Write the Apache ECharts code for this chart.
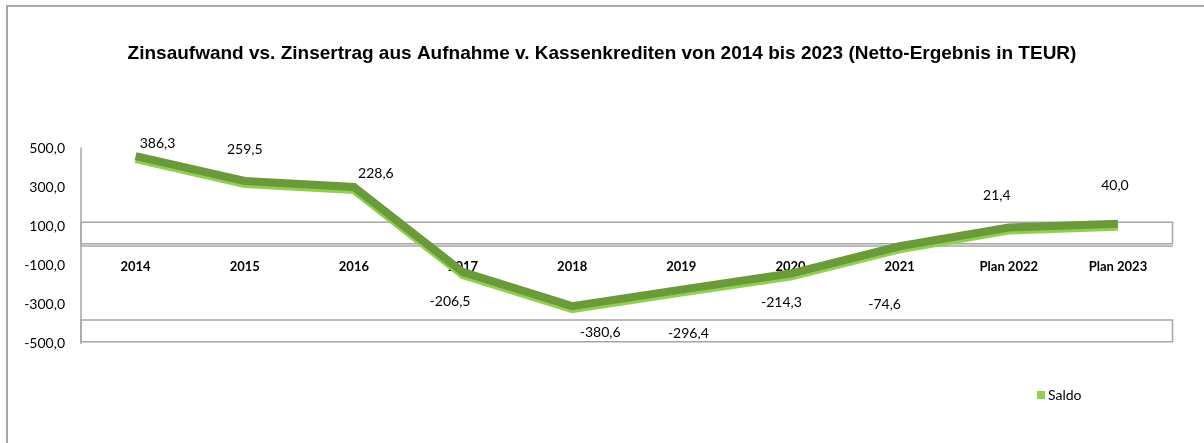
<!DOCTYPE html>
<html>
<head>
<meta charset="utf-8">
<script src="https://cdn.jsdelivr.net/npm/echarts@6/dist/echarts.min.js"></script>
<style>
  html, body { margin: 0; padding: 0; background: #fff; }
  #chart { position: absolute; left: 0; top: 0; width: 1204px; height: 443px; }
  #frame { position: absolute; left: 6px; top: 5px; right: 0; bottom: 0;
           border-left: 2px solid #a6a6a6; border-top: 2px solid #a6a6a6; pointer-events: none; }
</style>
</head>
<body>
<div id="chart"></div>
<div id="frame"></div>
<script>
// ---- data ----
const categories = ['2014', '2015', '2016', '2017', '2018', '2019', '2020', '2021', 'Plan 2022', 'Plan 2023'];
const saldo = [386.3, 259.5, 228.6, -206.5, -380.6, -296.4, -214.3, -74.6, 21.4, 40.0];
const yTicks = [-500, -300, -100, 100, 300, 500];
const seriesName = 'Saldo';
const titleText = 'Zinsaufwand vs. Zinsertrag aus Aufnahme v. Kassenkrediten von 2014 bis 2023 (Netto-Ergebnis in TEUR)';

// ---- styling (label placement mimicking the original 3D chart) ----
const labelOffsets = [[22, -13], [0, -31], [22, -13], [-13, 29], [28, 26], [7, 44], [-9, 29], [-15, 58], [-12, -32], [-3, -38]];
const fmt = v => v.toFixed(1).replace('.', ',');

const chart = echarts.init(document.getElementById('chart'));
chart.setOption({
  animation: false,
  backgroundColor: '#fff',
  title: {
    text: titleText,
    left: 'center',
    top: 39,
    textStyle: { fontFamily: 'Liberation Sans', fontWeight: 'bold', fontSize: 19, color: '#000' }
  },
  legend: {
    data: [{ name: seriesName, icon: 'rect', itemStyle: { color: '#92d050', opacity: 1 } }],
    left: 1032,
    top: 383,
    itemWidth: 8,
    itemHeight: 8,
    itemGap: 4,
    textStyle: { fontFamily: 'Lato', fontSize: 14, color: '#000', padding: [0, 0, 0, -2] }
  },
  grid: { left: 81, right: 31.5, top: 148, bottom: 99.5, containLabel: false },
  xAxis: {
    type: 'category',
    data: categories,
    boundaryGap: true,
    axisLine: { show: true, lineStyle: { color: '#a6a6a6', width: 1.5 } },
    axisTick: { show: false },
    axisLabel: { margin: -83, fontFamily: 'Lato', fontWeight: 'bold', fontSize: 13, color: '#000', interval: 0 },
    splitLine: { show: false }
  },
  yAxis: [
    {
      type: 'value',
      min: yTicks[0],
      max: yTicks[yTicks.length - 1],
      interval: 200,
      axisLine: { show: true, lineStyle: { color: '#a6a6a6', width: 1.5 } },
      axisTick: { show: false },
      splitLine: { show: false },
      axisLabel: { margin: 16, fontFamily: 'Lato', fontSize: 14, color: '#000', formatter: v => fmt(v) }
    },
    {
      // hidden scale reproducing the depth offset of the original 3D line
      type: 'value', min: -572, max: 428, show: false, splitLine: { show: false }
    }
  ],
  series: [
    {
      // wall boxes of the original 3D chart
      type: 'line',
      yAxisIndex: 0,
      data: [],
      silent: true,
      markArea: {
        silent: true,
        itemStyle: { color: 'rgba(0,0,0,0)', borderColor: '#a6a6a6', borderWidth: 1.5 },
        data: [
          [{ yAxis: 120 }, { yAxis: 10 }],
          [{ yAxis: -380 }, { yAxis: -491 }]
        ]
      }
    },
    {
      name: seriesName,
      type: 'line',
      yAxisIndex: 1,
      symbol: 'circle',
      symbolSize: 0.1,
      showSymbol: true,
      itemStyle: { color: '#92d050', opacity: 0 },
      lineStyle: {
        width: 8, color: '#6b9a3b', join: 'miter', cap: 'butt',
        shadowColor: '#8fd14f', shadowOffsetY: 3, shadowBlur: 0
      },
      data: saldo.map((v, i) => ({
        value: v,
        label: {
          show: true,
          position: 'inside',
          offset: labelOffsets[i],
          align: 'center',
          verticalAlign: 'middle',
          formatter: p => fmt(p.value),
          fontFamily: 'Lato',
          fontSize: 14,
          color: '#000',
          opacity: 1
        }
      }))
    }
  ]
});
</script>
</body>
</html>
